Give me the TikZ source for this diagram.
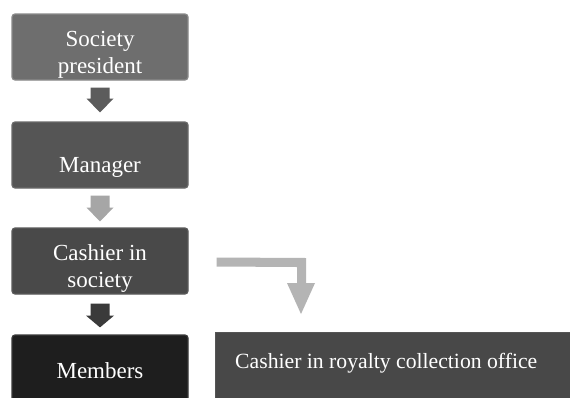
\documentclass[tikz,border=0pt]{standalone}
\usepackage{fontspec}
\setmainfont{Liberation Serif}
\newfontfamily\refserif{Liberation Serif}
\usetikzlibrary{calc}
\definecolor{cA}{HTML}{6E6E6E}
\definecolor{cAb}{HTML}{8A8A8A}
\definecolor{cB}{HTML}{555555}
\definecolor{cBb}{HTML}{6A6A6A}
\definecolor{cC}{HTML}{494949}
\definecolor{cCb}{HTML}{5A5A5A}
\definecolor{cD}{HTML}{1E1E1E}
\definecolor{cDb}{HTML}{3A3A3A}
\definecolor{cR}{HTML}{484848}
\definecolor{cRb}{HTML}{555555}
\definecolor{aA}{HTML}{5C5C5C}
\definecolor{aB}{HTML}{A6A6A6}
\definecolor{aC}{HTML}{3A3A3A}
\definecolor{aR}{HTML}{B4B4B4}
\tikzset{
  box/.style={rounded corners=3pt, minimum width=176pt, minimum height=66pt, line width=1.2pt, inner sep=0pt},
  lbl/.style={text=white, font=\refserif\fontsize{23}{27}\selectfont, align=center, inner sep=0pt},
  rlbl/.style={text=white, font=\refserif\fontsize{21.7}{26}\selectfont, inner sep=0pt, anchor=west},
}
\begin{document}
\begin{tikzpicture}[x=1pt,y=-1pt]
\useasboundingbox (0,0) rectangle (570,397);
\fill[white] (0,0) rectangle (570,397);
\begin{scope}
\clip (0,0) rectangle (570,397);
% boxes
\node[box, fill=cA, draw=cAb] (b1) at (100,47) {};
\node[box, fill=cB, draw=cBb] (b2) at (100,155) {};
\node[box, fill=cC, draw=cCb] (b3) at (100,261) {};
\node[box, fill=cD, draw=cDb, minimum height=76pt] (b4) at (100,373) {};
\node[fill=cR, draw=cRb, line width=1pt, minimum width=360pt, minimum height=76pt, inner sep=0pt, anchor=north west] (r) at (215,332) {};
% labels
\node[lbl] (t1) at ($(b1.center)+(0,8)$) {Society\\president};
\node[lbl] (t2) at ($(b2.center)+(0,12)$) {Manager};
\node[lbl] (t3) at ($(b3.center)+(0,7)$) {Cashier in\\society};
\node[lbl] (t4) at (100,371) {Members};
\node[rlbl] (t5) at (235,363) {Cashier in royalty collection office};
% block arrows
\fill[aA] ($(b1.south)+(-9.5,7)$) -- ($(b1.south)+(9.5,7)$) -- ($(b1.south)+(9.5,18)$) -- ($(b1.south)+(13.5,18)$) -- ($(b2.north)+(0,-9)$) -- ($(b1.south)+(-13.5,18)$) -- ($(b1.south)+(-9.5,18)$) -- cycle;
\fill[aB] ($(b2.south)+(-9.5,7)$) -- ($(b2.south)+(9.5,7)$) -- ($(b2.south)+(9.5,19)$) -- ($(b2.south)+(13.5,19)$) -- ($(b3.north)+(0,-6)$) -- ($(b2.south)+(-13.5,19)$) -- ($(b2.south)+(-9.5,19)$) -- cycle;
\fill[aC] ($(b3.south)+(-9.5,9)$) -- ($(b3.south)+(9.5,9)$) -- ($(b3.south)+(9.5,21)$) -- ($(b3.south)+(14,21)$) -- ($(b4.north)+(0,-7)$) -- ($(b3.south)+(-14,21)$) -- ($(b3.south)+(-9.5,21)$) -- cycle;
% bent arrow
\coordinate (tip) at ($(r.north west)+(86,-18)$);
\fill[aR] ($(b3.east)+(28,-3.5)$) -- ($(tip)+(5,-56)$) -- ($(tip)+(5,-31)$) -- ($(tip)+(14,-31)$) -- (tip) -- ($(tip)+(-14,-31)$) -- ($(tip)+(-4,-31)$) -- ($(tip)+(-4,-47)$) -- ($(b3.east)+(28,5.5)$) -- cycle;
\end{scope}
\end{tikzpicture}
\end{document}
